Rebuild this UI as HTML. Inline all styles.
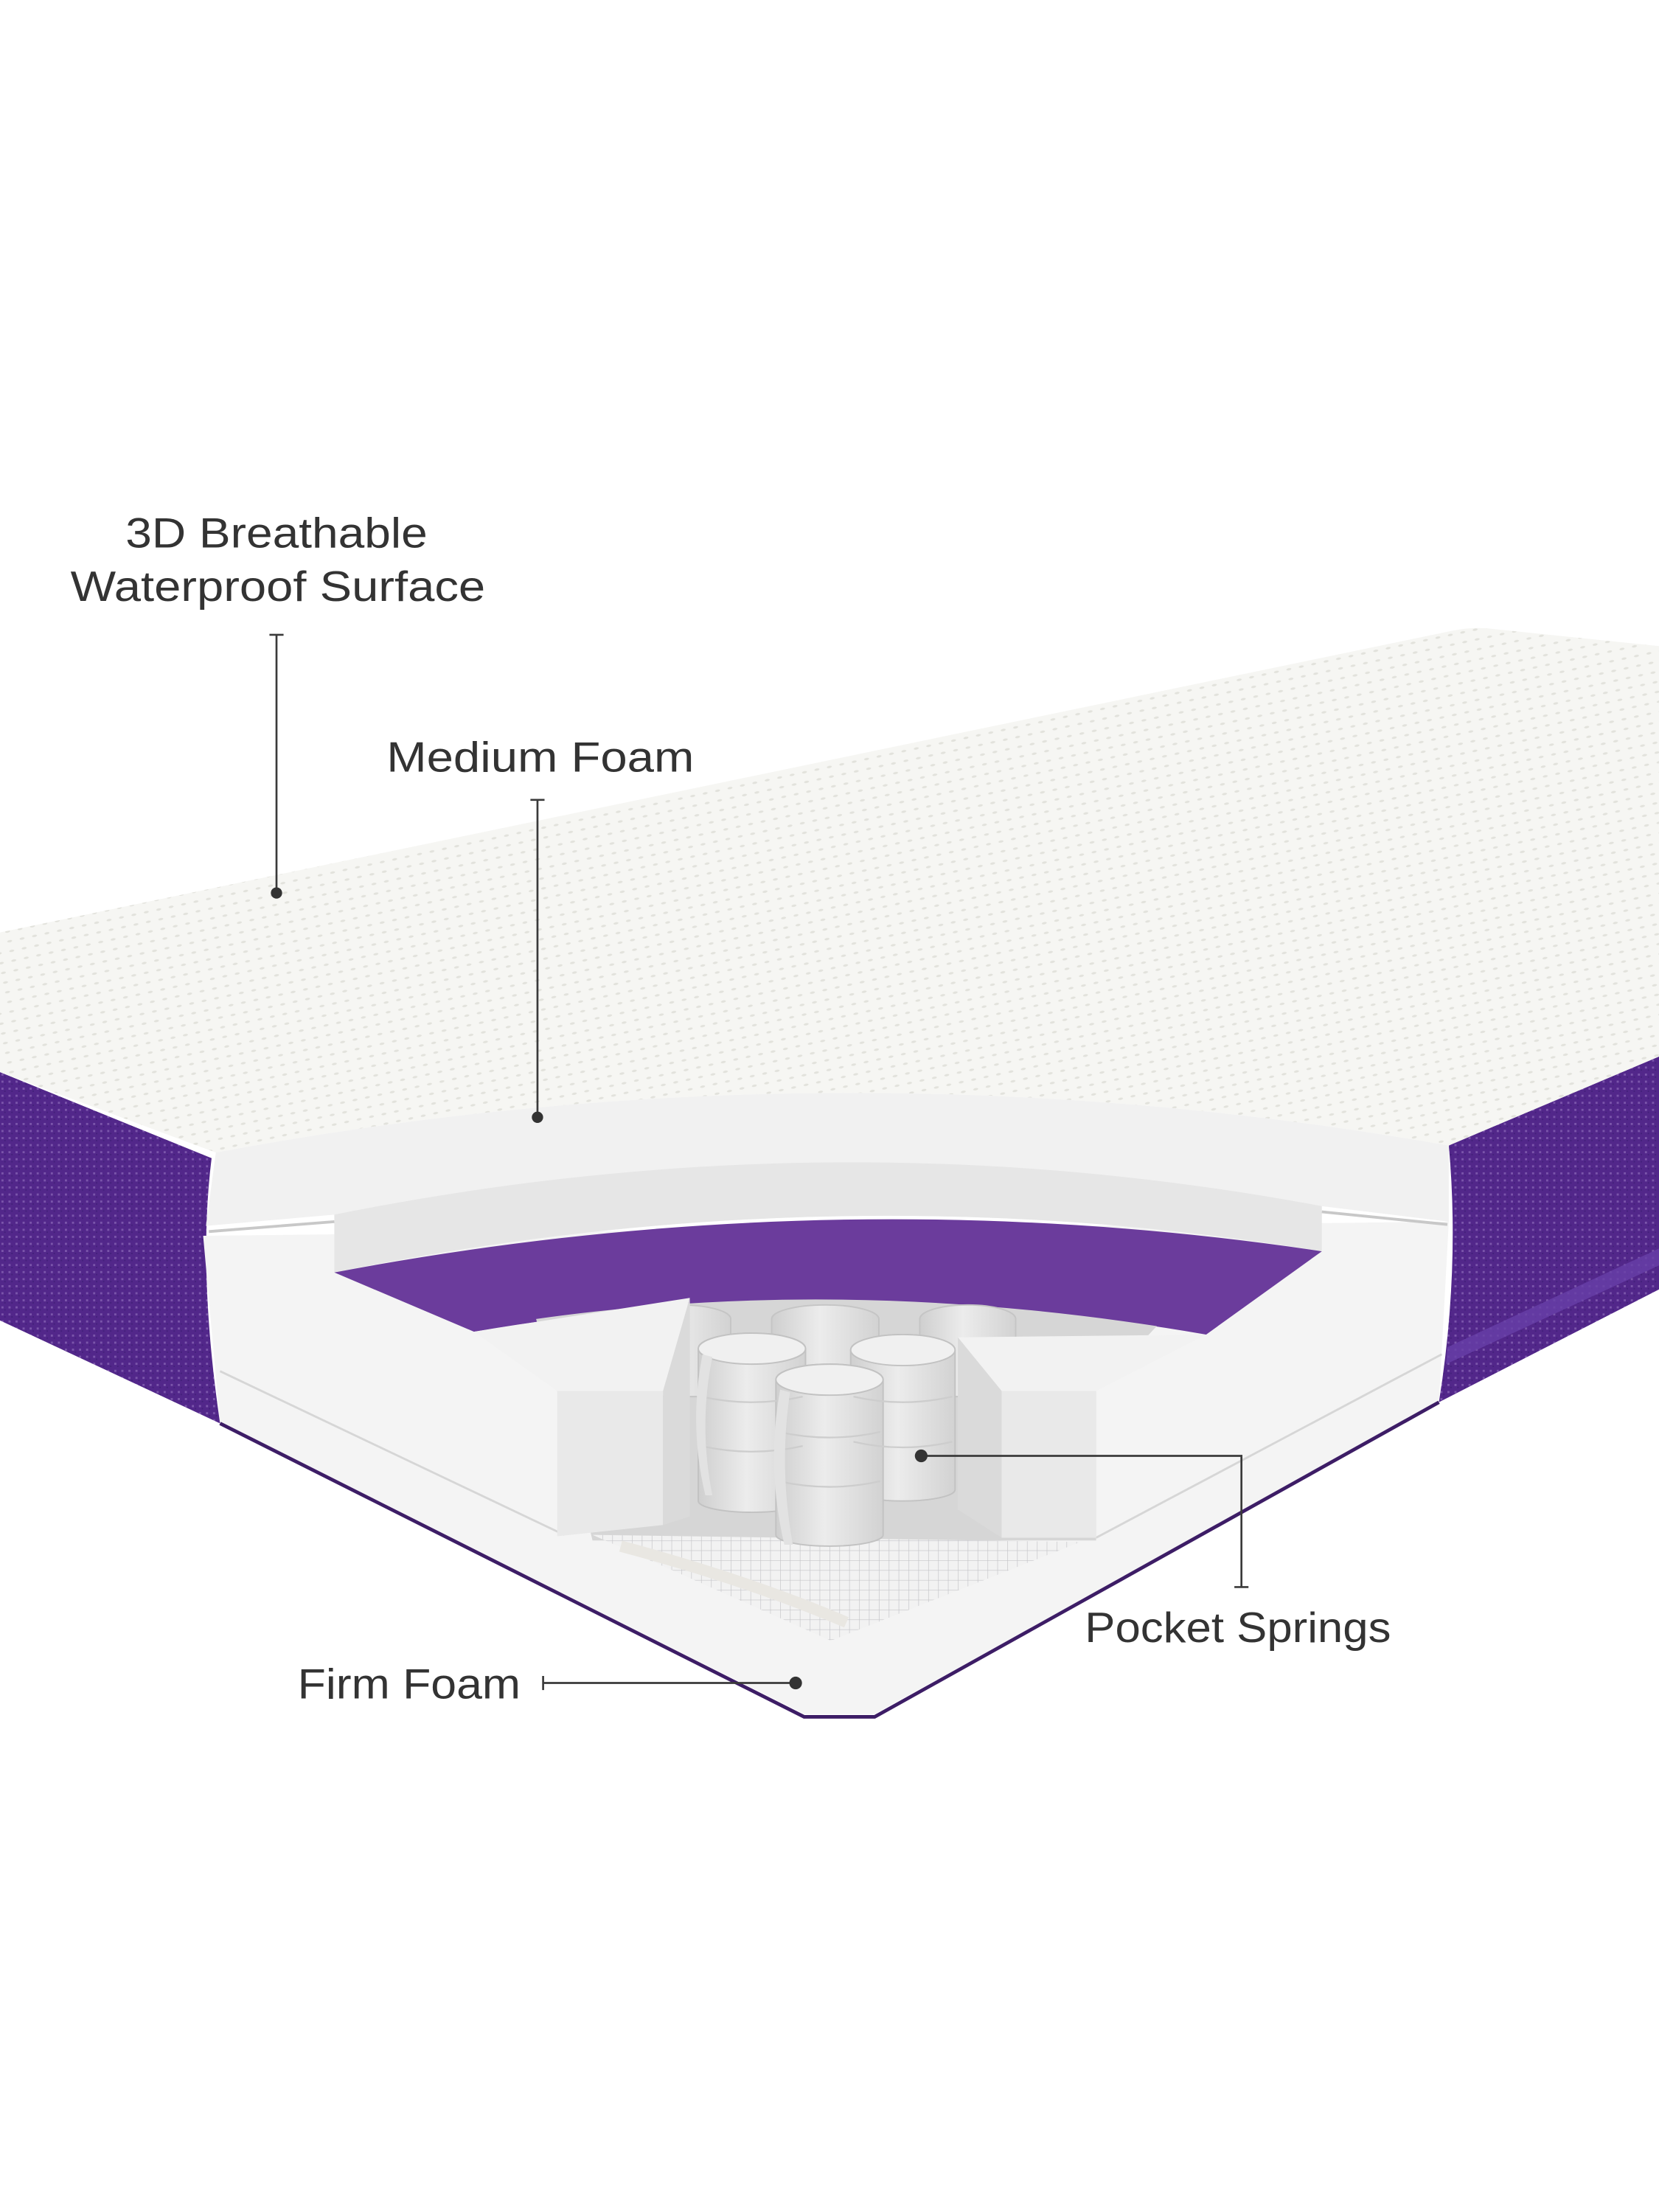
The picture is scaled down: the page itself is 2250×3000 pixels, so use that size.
<!DOCTYPE html>
<html><head><meta charset="utf-8"><style>
html,body{margin:0;padding:0;background:#fff;}
svg{display:block;}
text{font-family:"Liberation Sans",sans-serif;fill:#333;font-size:30px;}
</style></head><body>
<svg width="2250" height="3000" viewBox="0 0 1176 1568" xmlns="http://www.w3.org/2000/svg">
<defs>
<pattern id="dots" width="9" height="7" patternUnits="userSpaceOnUse" patternTransform="rotate(-12)">
<rect width="9" height="7" fill="#f6f6f3"/>
<ellipse cx="3" cy="3" rx="1.8" ry="0.8" fill="#e2e2dc"/>
</pattern>
<pattern id="weave" width="5" height="5" patternUnits="userSpaceOnUse">
<rect width="5" height="5" fill="#52278a"/>
<rect x="1" y="1" width="1.5" height="1.5" fill="#7a55aa"/>
<rect x="3" y="3" width="1" height="1" fill="#43207a"/>
</pattern>
<pattern id="grid" width="7" height="7" patternUnits="userSpaceOnUse">
<rect width="7" height="7" fill="#f2f2f2"/>
<path d="M0 0H7M0 0V7" stroke="#c4c4c8" stroke-width="0.7"/>
</pattern>
<linearGradient id="cyl" x1="0" x2="1" y1="0" y2="0">
<stop offset="0" stop-color="#cfcfcf"/><stop offset="0.45" stop-color="#ececec"/><stop offset="1" stop-color="#d2d2d2"/>
</linearGradient>
</defs>

<path d="M0,661 L1030,447 Q1045,444 1060,446 L1176,458 L1176,749 L1027,812 Q590,735 153,817 L0,760 Z" fill="url(#dots)"/>
<path d="M0,760 L150,821 Q140,900 156,1009 L0,936 Z" fill="url(#weave)"/>
<path d="M1027,812 L1176,749 L1176,914 L1020,994 Q1035,900 1027,812 Z" fill="url(#weave)"/>
<path d="M1026,955 L1176,885 L1176,897 L1025,967 Z" fill="#6840a8" opacity="0.8"/>

<path d="M144,876 L1027,866 L1020,994 L620,1215 L570,1215 L156,1009 Z" fill="#f4f4f4"/>
<path d="M156,1009 L570,1217 L620,1217 L1020,994" fill="none" stroke="#3d1d66" stroke-width="2.5"/>
<path d="M156,972 L400,1088" stroke="#d6d6d6" stroke-width="1.5"/>
<path d="M777,1090 L1022,960" stroke="#d6d6d6" stroke-width="1.5"/>

<path d="M153,817 Q590,735 1027,812 L1027,866 L937,855 L937,887 Q590,830 237,902 L237,861 L146,869 Z" fill="#f1f1f1"/>
<path d="M237,861 Q590,790 937,855 L937,887 Q590,830 237,902 Z" fill="#e6e6e6"/>
<path d="M148,873 L237,866 M937,859 L1026,868" stroke="#c8c8c8" stroke-width="2"/>

<path d="M237,902 Q590,835 937,887 L855,946 Q590,900 336,944 Z" fill="#6b3c9c"/>

<path d="M380,935 Q590,905 820,940 L777,986 L777,1092 L420,1092 L395,986 Z" fill="#d6d6d6"/>
<path d="M420,1088 L766,1093 L589,1163 Z" fill="url(#grid)"/>
<path d="M440,1096 Q530,1120 600,1150" stroke="#e9e7e2" stroke-width="8" fill="none"/>

<g fill="url(#cyl)" stroke="#c5c5c5" stroke-width="1">
<path d="M446,935 A36,10 0 0 1 518,935 L518,990 L446,990 Z"/>
<path d="M652,935 A34,10 0 0 1 720,935 L720,990 L652,990 Z"/>
<path d="M547,935 A38,10 0 0 1 623,935 L623,975 L547,975 Z"/>
</g>

<path d="M336,944 L489,920 L470,986 L395,986 Z" fill="#f2f2f2"/>
<path d="M395,986 L470,986 L470,1081 L395,1089 Z" fill="#e9e9e9"/>
<path d="M470,986 L489,920 L489,1075 L470,1081 Z" fill="#dadada"/>
<path d="M679,948 L855,946 L777,986 L710,986 Z" fill="#f2f2f2"/>
<path d="M679,948 L710,986 L710,1090 L679,1070 Z" fill="#dadada"/>
<path d="M710,986 L777,986 L777,1090 L710,1090 Z" fill="#e9e9e9"/>

<g stroke="#c2c2c2" stroke-width="1">
<path d="M495,956 A38,11 0 0 1 571,956 L571,1064 A38,8 0 0 1 495,1064 Z" fill="url(#cyl)"/>
<ellipse cx="533" cy="956" rx="38" ry="11" fill="#f0f0f0"/>
<path d="M603,957 A37,11 0 0 1 677,957 L677,1056 A37,8 0 0 1 603,1056 Z" fill="url(#cyl)"/>
<ellipse cx="640" cy="957" rx="37" ry="11" fill="#f0f0f0"/>
<path d="M550,978 A38,11 0 0 1 626,978 L626,1088 A38,8 0 0 1 550,1088 Z" fill="url(#cyl)"/>
<ellipse cx="588" cy="978" rx="38" ry="11" fill="#f0f0f0"/>
</g>
<g stroke="#cdcdcd" stroke-width="1.2" fill="none">
<path d="M497,990 Q533,998 569,990 M497,1025 Q533,1033 569,1025"/>
<path d="M605,990 Q640,998 675,990 M605,1022 Q640,1030 675,1022"/>
<path d="M552,1015 Q588,1023 624,1015 M552,1050 Q588,1058 624,1050"/>
</g>
<path d="M498,960 Q488,1010 500,1060 L505,1060 Q495,1010 505,962 Z" fill="#e2e2e2"/>
<path d="M553,985 Q543,1040 556,1095 L562,1095 Q552,1040 560,987 Z" fill="#e2e2e2"/>

<text x="89" y="388" textLength="214" lengthAdjust="spacingAndGlyphs">3D Breathable</text>
<text x="50" y="426" textLength="294" lengthAdjust="spacingAndGlyphs">Waterproof Surface</text>
<text x="274" y="547" textLength="218" lengthAdjust="spacingAndGlyphs">Medium Foam</text>
<text x="769" y="1164" textLength="217" lengthAdjust="spacingAndGlyphs">Pocket Springs</text>
<text x="211" y="1204" textLength="158" lengthAdjust="spacingAndGlyphs">Firm Foam</text>

<g stroke="#3a3a3a" stroke-width="1.4" fill="none">
<path d="M191,450 H201 M196,450 V633"/>
<path d="M376,567 H386 M381,567 V792"/>
<path d="M653,1032 H880 V1125 M875,1125 H885"/>
<path d="M385,1188 V1198 M385,1193 H564"/>
</g>
<g fill="#333">
<circle cx="196" cy="633" r="4"/>
<circle cx="381" cy="792" r="4"/>
<circle cx="653" cy="1032" r="4.5"/>
<circle cx="564" cy="1193" r="4.5"/>
</g>
</svg>
</body></html>
